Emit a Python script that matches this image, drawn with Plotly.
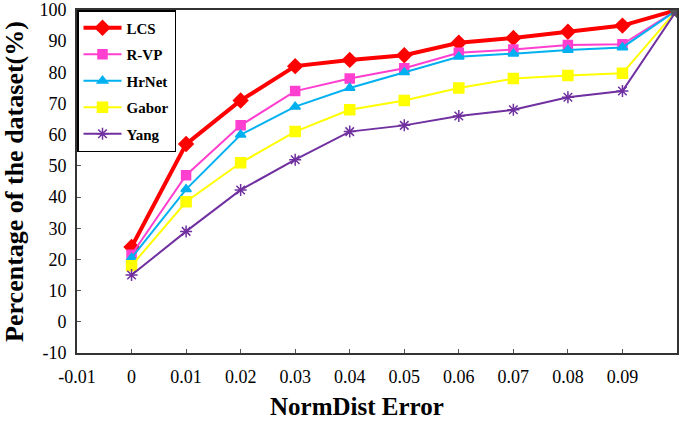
import plotly.graph_objects as go

# donnees
x_err = [0, 0.01, 0.02, 0.03, 0.04, 0.05, 0.06, 0.07, 0.08, 0.09, 0.1]
lcs = [24, 57, 71, 82, 84, 85.5, 89.5, 91, 93, 95, 100]
rvp = [21.5, 47, 63, 74, 78, 81.3, 86.3, 87.3, 88.8, 89, 100]
hrnet = [20.5, 42.5, 60, 69, 75, 80, 85, 86, 87.2, 88, 100]
gabor = [18, 38.5, 51, 61, 68, 71, 75, 78, 79, 79.7, 100]
yang = [15, 29, 42.3, 52, 61, 63, 66, 68, 72, 74, 100]

x_ticks = [-0.01, 0, 0.01, 0.02, 0.03, 0.04, 0.05, 0.06, 0.07, 0.08, 0.09]
x_labels = ["-0.01", "0", "0.01", "0.02", "0.03", "0.04", "0.05", "0.06", "0.07", "0.08", "0.09"]
y_ticks = [-10, 0, 10, 20, 30, 40, 50, 60, 70, 80, 90, 100]
y_labels = ["-10", "0", "10", "20", "30", "40", "50", "60", "70", "80", "90", "100"]

series = [
    ("LCS", lcs, "#FF0000", "diamond", 4, 11),
    ("R-VP", rvp, "#FF3FCF", "square", 2, 9),
    ("HrNet", hrnet, "#00B0F0", "triangle-up", 2, 9),
    ("Gabor", gabor, "#FFFF00", "square", 2, 10),
    ("Yang", yang, "#7030A0", "asterisk-open", 2, 10),
]

fig = go.Figure()
for name, vals, col, sym, lw, ms in series:
    # le dernier point est gris fonce sur la figure
    mcols = [col] * (len(vals) - 1) + ["#555555"]
    fig.add_trace(go.Scatter(
        x=x_err, y=vals, name=name, legendgroup=name, mode="lines+markers",
        line=dict(color=col, width=lw),
        marker=dict(symbol=sym, size=ms, color=mcols,
                    line=dict(color=mcols, width=1.5)),
    ))

fig.update_layout(
    width=685, height=421,
    margin=dict(l=77, r=8, t=10, b=68),
    paper_bgcolor="white", plot_bgcolor="white",
    font=dict(family="Liberation Serif", size=18, color="black"),
    showlegend=True,
    legend=dict(x=0, y=1, xanchor="left", yanchor="top",
                bgcolor="white", bordercolor="black", borderwidth=1.5,
                font=dict(family="Liberation Serif", size=15, color="black", weight="bold"),
                tracegroupgap=4, itemwidth=38),
    xaxis=dict(range=[-0.01, 0.1], tickvals=x_ticks, ticktext=x_labels,
               showgrid=False, zeroline=False, automargin=False,
               showline=True, linecolor="#333333", linewidth=2, mirror=True,
               ticks="inside", ticklen=4, tickcolor="#555555",
               ticklabelstandoff=6),
    yaxis=dict(range=[-10, 100], tickvals=y_ticks, ticktext=y_labels,
               showgrid=False, zeroline=False, automargin=False,
               showline=True, linecolor="#333333", linewidth=2, mirror=True,
               ticks="inside", ticklen=4, tickcolor="#555555",
               ticklabelstandoff=5,
               title=dict(text="Percentage of the dataset(%)", standoff=13,
                          font=dict(size=26, weight="bold"))),
    annotations=[dict(text="<b>NormDist Error</b>", xref="paper", yref="paper",
                      x=0.467, y=-0.155, xanchor="center", yanchor="middle",
                      showarrow=False, font=dict(size=25))],
)

# la page html a une marge de 8px par defaut : on la retire
fig.write_html("out.html", config={"displayModeBar": False},
               post_script="document.body.style.margin='0';")
